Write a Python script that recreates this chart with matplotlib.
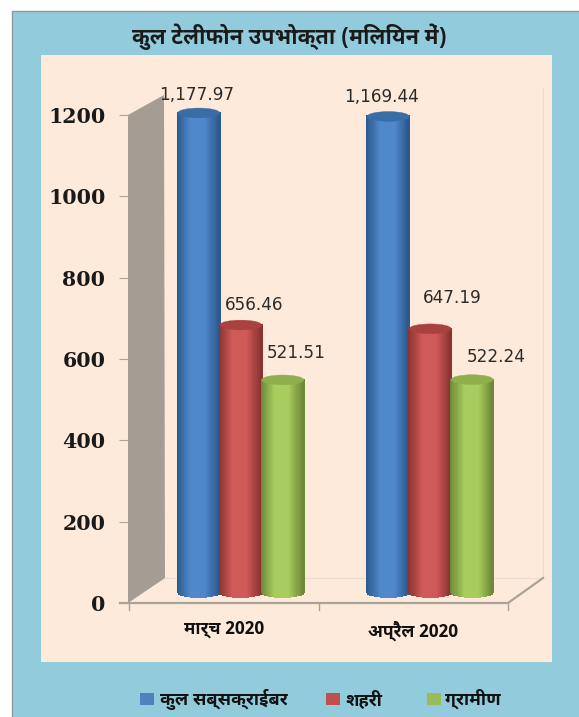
import numpy as np
import matplotlib
matplotlib.use('Agg')
import matplotlib.pyplot as plt
from matplotlib import font_manager as fm
from matplotlib.colors import LinearSegmentedColormap
from matplotlib.patches import Ellipse, Polygon, Rectangle
from matplotlib.transforms import Affine2D
from matplotlib.ft2font import FT2Font

months = ['मार्च 2020', 'अप्रैल 2020']
series = ['कुल सब्सक्राईबर', 'शहरी', 'ग्रामीण']
total = [1177.97, 1169.44]
urban = [656.46, 647.19]
rural = [521.51, 522.24]
yticks = [0, 200, 400, 600, 800, 1000, 1200]
title = 'कुल टेलीफोन उपभोक्ता (मिलियन में)'


# pick a Devanagari face, best looking ones first
def find_hindi():
    files = fm.findSystemFonts()
    for want in ['NotoSansDevanagariUI-Bold', 'Mukta-ExtraBold', 'EkMukta-SemiBold', 'Jaldi-Bold']:
        for f in files:
            if want in f:
                return f
    for f in files:
        try:
            if FT2Font(f).get_char_index(0x0915):
                return f
        except Exception:
            pass
    return None


hindi_file = find_hindi()


def hindi(size):
    if hindi_file:
        return fm.FontProperties(fname=hindi_file, size=size)
    return fm.FontProperties(family='Noto Sans', weight='bold', size=size)


W, H = 579, 717
fig = plt.figure(figsize=(W / 100, H / 100), dpi=100, facecolor='white')

# pixel overlay for panel and 3D box
bg = fig.add_axes([0, 0, 1, 1], zorder=0)
bg.set_xlim(0, W)
bg.set_ylim(H, 0)
bg.axis('off')
bg.add_patch(Rectangle((12, 11), W, H, fc='#91CBDC', ec='#8E9A9E', lw=1))
bg.add_patch(Rectangle((41, 55), 511, 607, fc='#FDEADA', ec='none'))
bg.add_patch(Polygon([(128, 115), (164, 95), (165, 578), (128, 603)], fc='#A59C94', ec='none'))
bg.plot([165, 543, 543], [578, 578, 88], color='#EBDCCD', lw=0.8)
bg.plot([120, 508, 543], [603, 603, 578], color='#A9A39A', lw=1.6)
for x in [129, 319, 508]:
    bg.plot([x, x], [603, 610], color='#A9A39A', lw=1)

ax = fig.add_axes([129 / W, (H - 603) / H, 379 / W, 488 / H], zorder=1)
ax.set_xlim(0, 2)
ax.set_ylim(0, 1200)
ax.patch.set_alpha(0)
for s in ax.spines.values():
    s.set_visible(False)
ax.set_xticks([0.5, 1.5], months, fontproperties=hindi(12.7), color='#111111')
ax.tick_params(axis='x', length=0, pad=12.5)
ax.set_yticks(yticks)
ax.tick_params(axis='y', length=7, color='#A9A39A', pad=10)
for t in ax.get_yticklabels():
    t.set_family('DejaVu Serif')
    t.set_fontweight('bold')
    t.set_fontsize(14.8)
    t.set_color('#1A1A1A')

shift = ax.transData + Affine2D().translate(17, 11)

colours = [('#2C5A8F', '#5088CC', '#3A6CA6'),
           ('#8C3331', '#D05A58', '#A9423F'),
           ('#6E8A38', '#A8CC5E', '#8FAE4C')]
w = 0.2216
cap = 24
u = np.linspace(-1, 1, 41)


def cylinder(xc, val, cols):
    cmap = LinearSegmentedColormap.from_list('c', [cols[0], cols[1], cols[1], cols[0]], N=64)
    xs = np.tile(xc + u * w / 2, (2, 1))
    low = -cap / 2 * np.sqrt(1 - u ** 2)
    ys = np.vstack([low, np.full_like(u, val)])
    vals = 0.5 + (u[:-1] + u[1:]) / 4
    ax.pcolormesh(xs, ys, vals[None, :], cmap=cmap, shading='flat', transform=shift,
                  edgecolors='face', lw=0.2, zorder=3, vmin=0, vmax=1, clip_on=False)
    ax.add_patch(Ellipse((xc, val), w, cap, fc=cols[2], ec=cols[2], lw=0.3, transform=shift,
                         zorder=4, clip_on=False))


for i, vals in enumerate([total, urban, rural]):
    for j, v in enumerate(vals):
        cylinder(j + 0.5 + (i - 1) * w, v, colours[i])

label_at = {(0, 0): (197, 95), (0, 1): (382, 97), (1, 0): (254, 305), (1, 1): (452, 298),
            (2, 0): (296, 353), (2, 1): (496, 357)}
for i, vals in enumerate([total, urban, rural]):
    for j, v in enumerate(vals):
        x, y = label_at[(i, j)]
        bg.text(x, y, f'{v:,.2f}', ha='center', va='center', fontsize=12.2, color='#2B2B2B', zorder=5)

bg.text(289, 37, title, ha='center', va='center', fontproperties=hindi(15.5), color='#1A1A1A')

# legend
for x, c in zip([140, 326, 427], ['#4F81BD', '#C0504D', '#9BBB59']):
    bg.add_patch(Rectangle((x, 693), 14, 12, fc=c, ec='none'))
for x, s in zip([160, 345, 445], series):
    bg.text(x, 699, s, ha='left', va='center', fontproperties=hindi(13), color='#111111')

fig.savefig('out.png', dpi=100)
